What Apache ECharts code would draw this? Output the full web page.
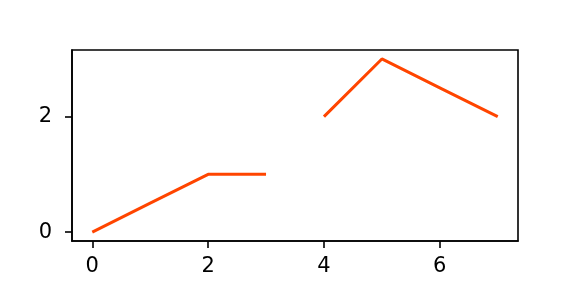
<!DOCTYPE html>
<html>
<head>
<meta charset="utf-8">
<script src="https://cdn.jsdelivr.net/npm/echarts@6/dist/echarts.min.js"></script>
<style>html,body{margin:0;padding:0;background:#fff}#c{width:576px;height:288px}</style>
</head>
<body>
<div id="c"></div>
<script>
var xValues = [0, 1, 2, 3, 3.5, 4, 5, 6, 7];
var yValues = [0, 0.5, 1, 1, null, 2, 3, 2.5, 2];
var xTicks = [0, 2, 4, 6];
var yTicks = [0, 2];

var data = xValues.map(function (x, i) { return [x, yValues[i] === null ? '-' : yValues[i]]; });
var font = 'DejaVu Sans';
var chart = echarts.init(document.getElementById('c'), null, {renderer: 'canvas'});
chart.setOption({
  animation: false,
  backgroundColor: '#fff',
  grid: {left: 72, right: 58, top: 50, bottom: 47, show: true, borderColor: '#000', borderWidth: 1.6, backgroundColor: 'transparent'},
  xAxis: {
    type: 'value', min: -0.35, max: 7.35,
    splitLine: {show: false},
    axisLine: {show: true, onZero: false, lineStyle: {color: '#000', width: 1.6}},
    axisTick: {show: true, customValues: xTicks, length: 7, lineStyle: {color: '#000', width: 1.6}},
    axisLabel: {customValues: xTicks, color: '#000', fontFamily: font, fontSize: 21, margin: 15}
  },
  yAxis: {
    type: 'value', min: -0.155, max: 3.155,
    splitLine: {show: false},
    axisLine: {show: true, onZero: false, lineStyle: {color: '#000', width: 1.6}},
    axisTick: {show: true, customValues: yTicks, length: 7, lineStyle: {color: '#000', width: 1.6}},
    axisLabel: {customValues: yTicks, color: '#000', fontFamily: font, fontSize: 21, margin: 20}
  },
  series: [{
    type: 'line', data: data, showSymbol: false, symbol: 'none', connectNulls: false,
    lineStyle: {color: '#ff4500', width: 3}, itemStyle: {color: '#ff4500'}
  }]
});
</script>
</body>
</html>
